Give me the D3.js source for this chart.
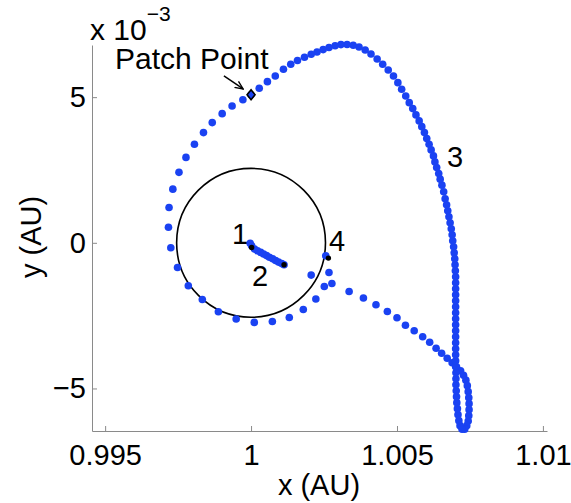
<!DOCTYPE html>
<html>
<head>
<meta charset="utf-8">
<script src="https://cdnjs.cloudflare.com/ajax/libs/d3/7.8.5/d3.min.js"></script>
<style>
  body { margin: 0; background: #fff; }
  text { font-family: "Liberation Sans", Arial, sans-serif; fill: #000; }
</style>
</head>
<body>
<div class="d3-div"></div>
<script>
// Trajectory samples, x in AU, y in units of 10^-3 AU.
var trajX = [
  0.99997, 1.00002, 1.00012, 1.00022, 1.00033, 1.00043, 1.00053, 1.00063, 1.00074, 1.00084, 1.00094, 1.00105, 1.00113,
  1.00206, 1.00277, 1.00336, 1.00385, 1.00428, 1.00467, 1.00500, 1.00529, 1.00559, 1.00588, 1.00612, 1.00634, 1.00653, 1.00672, 1.00689,
  1.00704, 1.00718, 1.00728, 1.00736, 1.00741, 1.00744, 1.00746, 1.00747, 1.00747, 1.00746, 1.00744, 1.00739, 1.00732,
  1.00723, 1.00716, 1.00712, 1.00709, 1.00707, 1.00705, 1.00704, 1.00703, 1.00702, 1.00702, 1.00702, 1.00701,
  1.00701, 1.00701, 1.00701, 1.00701, 1.00701, 1.00701, 1.00701, 1.00701, 1.00701, 1.00701, 1.00701, 1.00701, 1.00701, 1.00701,
  1.00701, 1.00700, 1.00699, 1.00698, 1.00696, 1.00694, 1.00691, 1.00689, 1.00686, 1.00682, 1.00678, 1.00674, 1.00670, 1.00665, 1.00660,
  1.00654, 1.00648, 1.00643, 1.00636, 1.00630, 1.00625, 1.00617, 1.00610, 1.00602, 1.00594, 1.00585, 1.00576, 1.00565, 1.00554,
  1.00542, 1.00530, 1.00516, 1.00503, 1.00488, 1.00470, 1.00451, 1.00432, 1.00411, 1.00391, 1.00370,
  1.00350, 1.00329, 1.00308, 1.00288, 1.00267, 1.00247, 1.00226, 1.00206, 1.00183, 1.00159, 1.00136, 1.00111, 1.00083, 1.00056, 1.00028,
  1.00000, 0.99972, 0.99935, 0.99901, 0.99867, 0.99837, 0.99806, 0.99777, 0.99753, 0.99732, 0.99719, 0.99717, 0.99725, 0.99748,
  0.99785, 0.99833, 0.99888, 0.99949, 1.00011, 1.00073, 1.00131, 1.00179, 1.00222, 1.00251, 1.00267, 1.00256
];
var trajY = [
  -0.017, -0.103, -0.216, -0.274, -0.329, -0.384, -0.439, -0.497, -0.549, -0.607, -0.662, -0.713, -0.755,
  -1.108, -1.396, -1.670, -1.896, -2.126, -2.356, -2.572, -2.829, -3.018, -3.224, -3.412, -3.618, -3.789, -3.961, -4.115,
  -4.252, -4.390, -4.544, -4.715, -4.904, -5.110, -5.316, -5.521, -5.727, -5.933, -6.121, -6.276, -6.396,
  -6.396, -6.276, -6.104, -5.899, -5.693, -5.487, -5.281, -5.076, -4.870, -4.664, -4.458, -4.252,
  -4.047, -3.841, -3.635, -3.429, -3.224, -3.018, -2.812, -2.606, -2.401, -2.195, -1.989, -1.783, -1.578, -1.372,
  -1.166, -0.960, -0.754, -0.549, -0.343, -0.137, 0.069, 0.274, 0.480, 0.686, 0.892, 1.097, 1.303, 1.509, 1.749,
  1.979, 2.185, 2.377, 2.582, 2.778, 2.984, 3.189, 3.385, 3.577, 3.783, 3.988, 4.184, 4.390, 4.606,
  4.811, 5.041, 5.271, 5.497, 5.727, 5.933, 6.128, 6.310, 6.482, 6.619, 6.722,
  6.780, 6.807, 6.804, 6.763, 6.704, 6.632, 6.550, 6.475, 6.372, 6.259, 6.128, 5.957, 5.727, 5.532, 5.305,
  5.082, 4.911, 4.698, 4.434, 4.126, 3.783, 3.385, 2.932, 2.418, 1.842, 1.211, 0.532, -0.171, -0.847,
  -1.475, -1.948, -2.366, -2.617, -2.733, -2.699, -2.562, -2.287, -1.931, -1.499, -1.019, -0.446
];

// Numbered event points (black dots) and their labels.
var eventNames = ["1", "2", "4"];
var eventX = [1.00002, 1.00113, 1.00265];
var eventY = [-0.161, -0.755, -0.525];

var labelText = ["1", "2", "3", "4"];
var labelX = [0.99962, 1.00031, 1.00699, 1.00295];
var labelY = [-0.034, -1.475, 2.606, -0.274];

// Patch point and sphere of influence.
var patchX = 1.0, patchY = 5.082;
var soiCenter = [1.0, 0.0];
var soiRadius = 0.00255;

// Axis ticks.
var xTicks = [0.995, 1, 1.005, 1.01];
var yTicks = [-5, 0, 5];

var width = 571;
var height = 503;
var blue = "#1a42f2";
var axisGray = "#8a8a8a";

var svg = d3.select(".d3-div")
  .append("svg")
  .attr("width", width)
  .attr("height", height);

svg.append("rect").attr("width", width).attr("height", height).attr("fill", "#fff");

var x = d3.scaleLinear().domain([0.99455, 1.01014]).range([92, 547]);
var y = d3.scaleLinear().domain([-6.46, 6.79]).range([431, 45]);

// Axes, ticks pointing inward.
var xAxis = svg.append("g")
  .attr("transform", "translate(0,431)")
  .call(d3.axisBottom(x).tickValues(xTicks).tickFormat(d3.format("~g"))
    .tickSizeInner(-5).tickSizeOuter(0).tickPadding(13));
var yAxis = svg.append("g")
  .attr("transform", "translate(92,0)")
  .call(d3.axisLeft(y).tickValues(yTicks).tickFormat(d3.format("~g"))
    .tickSizeInner(-5).tickSizeOuter(0).tickPadding(6));

[xAxis, yAxis].forEach(function(g) {
  g.select(".domain").attr("stroke", axisGray);
  g.selectAll(".tick line").attr("stroke", axisGray);
  g.selectAll(".tick text")
    .attr("font-size", 29)
    .attr("font-family", "Liberation Sans, Arial, sans-serif")
    .attr("fill", "#000");
});

// Axis labels.
svg.append("text")
  .attr("x", 319)
  .attr("y", 495)
  .attr("text-anchor", "middle")
  .attr("font-size", 29)
  .text("x (AU)");

svg.append("text")
  .attr("transform", "translate(41,237) rotate(-90)")
  .attr("text-anchor", "middle")
  .attr("font-size", 29)
  .text("y (AU)");

// Exponent marker above y axis.
var expo = svg.append("text").attr("x", 90).attr("y", 40).attr("font-size", 30);
expo.append("tspan").text("x 10");
expo.append("tspan").attr("dy", -19).attr("font-size", 21).text("\u22123");

// Sphere of influence circle.
svg.append("circle")
  .attr("cx", x(soiCenter[0]))
  .attr("cy", y(soiCenter[1]))
  .attr("r", x(soiCenter[0] + soiRadius) - x(soiCenter[0]))
  .attr("fill", "none")
  .attr("stroke", "#000")
  .attr("stroke-width", 1.6);

// Trajectory dots.
svg.append("g")
  .selectAll("circle")
  .data(d3.range(trajX.length))
  .join("circle")
  .attr("cx", function(i) { return x(trajX[i]); })
  .attr("cy", function(i) { return y(trajY[i]); })
  .attr("r", 3.8)
  .attr("fill", blue);

// Event points.
svg.append("g")
  .selectAll("circle")
  .data(d3.range(eventX.length))
  .join("circle")
  .attr("cx", function(i) { return x(eventX[i]); })
  .attr("cy", function(i) { return y(eventY[i]); })
  .attr("r", 2.7)
  .attr("fill", "#000");

// Patch point diamond.
var px = x(patchX), py = y(patchY);
svg.append("path")
  .attr("d", "M" + px + "," + (py - 5) + "L" + (px + 4) + "," + py + "L" + px + "," + (py + 5) + "L" + (px - 4) + "," + py + "Z")
  .attr("fill", blue)
  .attr("stroke", "#000")
  .attr("stroke-width", 1.6);

// Number labels.
svg.append("g")
  .selectAll("text")
  .data(d3.range(labelText.length))
  .join("text")
  .attr("x", function(i) { return x(labelX[i]); })
  .attr("y", function(i) { return y(labelY[i]); })
  .attr("text-anchor", "middle")
  .attr("font-size", 29)
  .text(function(i) { return labelText[i]; });

// Patch point annotation with arrow.
svg.append("defs").append("marker")
  .attr("id", "arrow")
  .attr("viewBox", "0 0 10 10")
  .attr("refX", 9).attr("refY", 5)
  .attr("markerWidth", 9).attr("markerHeight", 9)
  .attr("markerUnits", "userSpaceOnUse")
  .attr("orient", "auto")
  .append("path")
  .attr("d", "M0,1L9,5L0,9")
  .attr("fill", "none")
  .attr("stroke", "#000")
  .attr("stroke-width", 1.5);

svg.append("line")
  .attr("x1", x(0.99907)).attr("y1", y(5.727))
  .attr("x2", x(0.99973)).attr("y2", y(5.281))
  .attr("stroke", "#000")
  .attr("stroke-width", 1.5)
  .attr("marker-end", "url(#arrow)");

svg.append("text")
  .attr("x", x(0.99534))
  .attr("y", y(5.967))
  .attr("font-size", 30)
  .text("Patch Point");
</script>
</body>
</html>
